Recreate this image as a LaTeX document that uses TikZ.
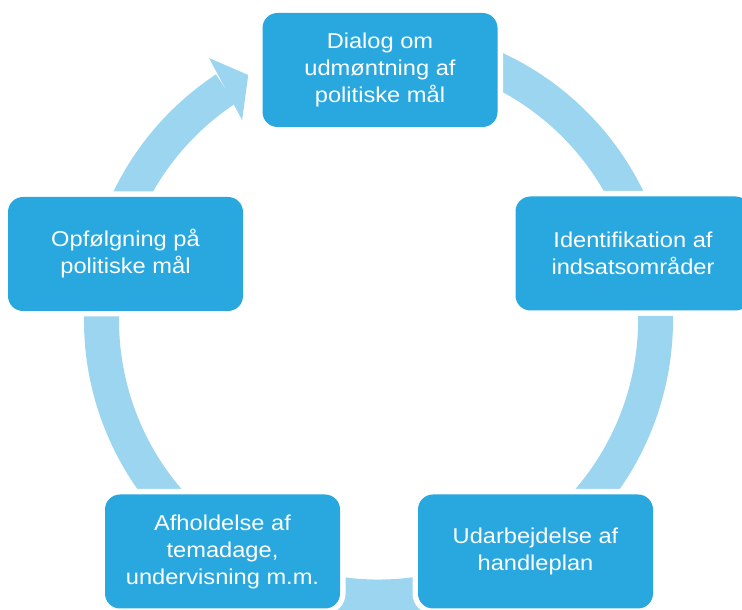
\documentclass[tikz,border=0pt]{standalone}
\usepackage{fontspec}
\newfontfamily\boxfont{Liberation Sans}[FakeStretch=1.1]
\usetikzlibrary{calc}
\definecolor{boxblue}{RGB}{41,168,224}
\definecolor{bandblue}{RGB}{155,213,240}
\tikzset{
  stage/.style={
    preaction={draw=white, line width=11pt},
    fill=boxblue, rounded corners=15pt,
    minimum width=235pt, minimum height=114pt,
    inner sep=0pt, align=center, text=white,
    font=\boxfont\fontsize{21.5}{27}\selectfont
  },
  band/.style={fill=bandblue}
}
\begin{document}
\begin{tikzpicture}[x=1pt,y=1pt]
\useasboundingbox (0,0) rectangle (742,610);
\coordinate (C) at (378.5,290);
% ring band with arrow head
\fill[band] ($(C)+(123.5:294.5)$) arc[start angle=123.5, end angle=460, radius=294.5]
  -- ($(C)+(460:259.5)$) arc[start angle=460, end angle=123.5, radius=259.5] -- cycle;
\fill[band] ($(C)+(122.9:312)$) -- ($(C)+(118:277.5)$) -- ($(C)+(124.3:242)$) -- cycle;
% stages
\node[stage] (top) at (380,540) {Dialog om\\udmøntning af\\politiske mål};
\node[stage] (right) at (633,356.5) {Identifikation af\\indsatsområder};
\node[stage] (br) at (535.5,58.5) {Udarbejdelse af\\handleplan};
\node[stage] (bl) at (222.5,58.5) {Afholdelse af\\temadage,\\undervisning m.m.};
\node[stage] (left) at (125.5,356) {Opfølgning på\\politiske mål};
\end{tikzpicture}
\end{document}
